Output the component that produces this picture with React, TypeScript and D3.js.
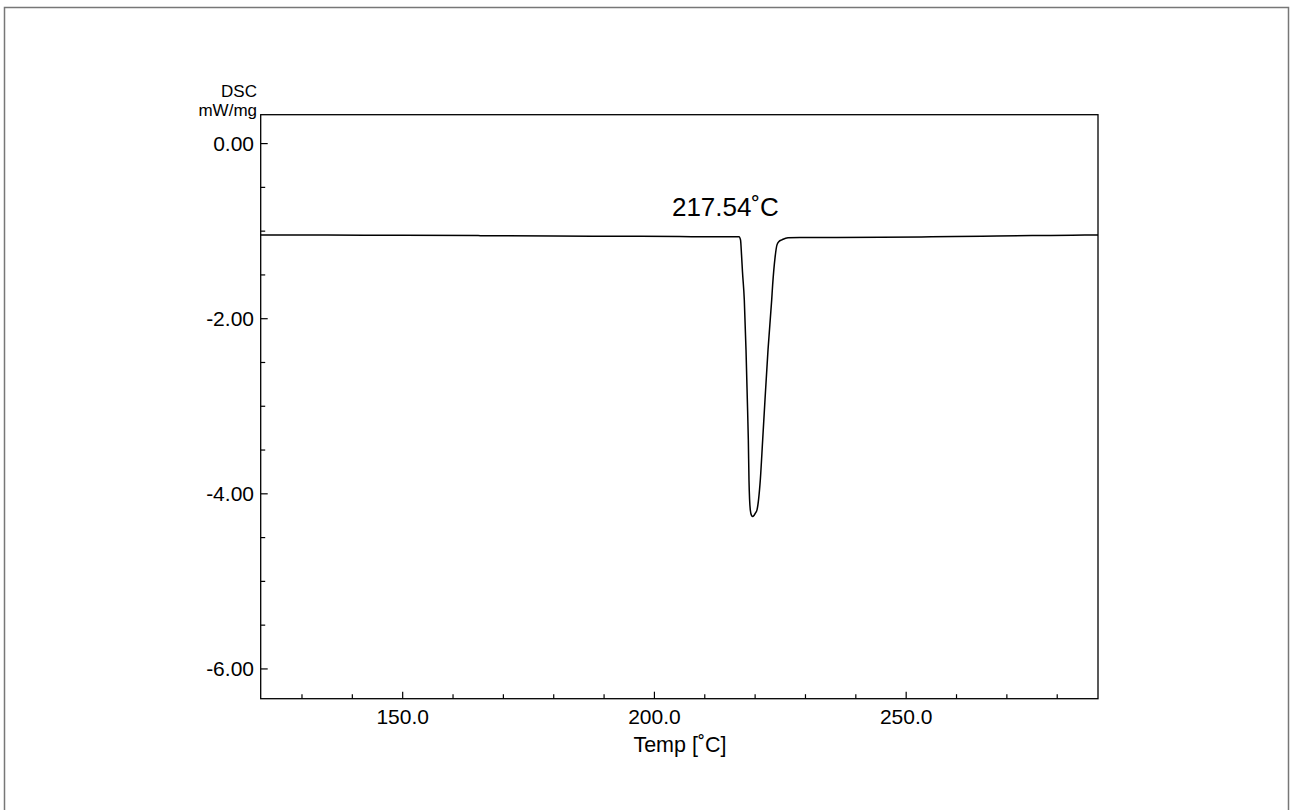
import React from "react";
import * as d3 from "d3";

// DSC curve: temperature (°C) and heat flow (mW/mg)
const temps = [
  121.8, 135, 150, 165, 180, 195, 205, 212, 216.0, 216.8,
  217.1, 217.3, 217.49, 217.85, 218.19, 218.45, 218.65, 218.78, 219.04, 219.28,
  219.52, 219.78, 220.08, 220.37, 221.03, 221.5, 221.96, 222.56, 223.29, 223.48,
  223.95, 224.34, 224.74, 225.28, 226.53, 228.9, 235, 245, 255, 265,
  275, 283, 288.1,
];
const dsc = [
  -1.043, -1.045, -1.047, -1.051, -1.055, -1.059, -1.062, -1.064, -1.064, -1.063,
  -1.1, -1.271, -1.465, -1.785, -2.356, -2.927, -3.384, -3.841, -4.184, -4.247,
  -4.26, -4.247, -4.218, -4.184, -3.841, -3.384, -2.927, -2.356, -1.785, -1.614,
  -1.305, -1.157, -1.117, -1.1, -1.074, -1.072, -1.073, -1.071, -1.065, -1.058,
  -1.051, -1.046, -1.043,
];

const yTicks = [0, -2, -4, -6];
const yMinor = [-0.5, -1, -1.5, -2.5, -3, -3.5, -4.5, -5, -5.5];
const xTicks = [150, 200, 250];
const xMinor = [130, 140, 160, 170, 180, 190, 210, 220, 230, 240, 260, 270, 280];
const peakLabel = "217.54˚C";
const peakLabelTemp = 214.3;
const yTitle = ["DSC", "mW/mg"];
const xTitle = "Temp [˚C]";

const FONT = "'Liberation Sans', Arial, Helvetica, sans-serif";

export default function App() {
  const x = d3.scaleLinear().domain([121.8, 288.1]).range([260.7, 1098]);
  const y = d3.scaleLinear().domain([-6.34, 0.33]).range([698.7, 114.7]);
  const pts = temps.map((t, i) => [t, dsc[i]] as [number, number]);
  const line = d3
    .line<[number, number]>()
    .x((d) => x(d[0]))
    .y((d) => y(d[1]))
    .curve(d3.curveMonotoneX);

  const [x0, x1] = x.range();
  const [yb, yt] = y.range();

  return (
    <svg
      width={1290}
      height={810}
      style={{ position: "absolute", left: 0, top: 0, display: "block", background: "#fff" }}
    >
      <rect x={4.5} y={7.5} width={1284} height={900} fill="#fff" stroke="#777" strokeWidth={1.5} />
      {/* plot frame */}
      <rect x={x0} y={yt} width={x1 - x0} height={yb - yt} fill="none" stroke="#000" strokeWidth={1.3} />
      {/* y ticks */}
      {yTicks.map((v) => (
        <g key={"yt" + v}>
          <line x1={x0} x2={x0 + 7} y1={y(v)} y2={y(v)} stroke="#000" strokeWidth={1.2} />
          <text x={254} y={y(v) + 7.5} textAnchor="end" fontFamily={FONT} fontSize={21} fill="#000">
            {v.toFixed(2)}
          </text>
        </g>
      ))}
      {yMinor.map((v) => (
        <line key={"ym" + v} x1={x0} x2={x0 + 4.5} y1={y(v)} y2={y(v)} stroke="#000" strokeWidth={1.2} />
      ))}
      {/* x ticks */}
      {xTicks.map((v) => (
        <g key={"xt" + v}>
          <line x1={x(v)} x2={x(v)} y1={yb} y2={yb - 7} stroke="#000" strokeWidth={1.2} />
          <text x={x(v)} y={724} textAnchor="middle" fontFamily={FONT} fontSize={21} fill="#000">
            {v.toFixed(1)}
          </text>
        </g>
      ))}
      {xMinor.map((v) => (
        <line key={"xm" + v} x1={x(v)} x2={x(v)} y1={yb} y2={yb - 4.5} stroke="#000" strokeWidth={1.2} />
      ))}
      {/* titles */}
      <text x={257} y={96.5} textAnchor="end" fontFamily={FONT} fontSize={17} fill="#000">
        {yTitle[0]}
      </text>
      <text x={257} y={116} textAnchor="end" fontFamily={FONT} fontSize={17} fill="#000">
        {yTitle[1]}
      </text>
      <text x={680} y={752} textAnchor="middle" fontFamily={FONT} fontSize={21.5} fill="#000">
        {xTitle}
      </text>
      {/* curve */}
      <path d={line(pts) || ""} fill="none" stroke="#000" strokeWidth={1.5} strokeLinejoin="round" />
      <text x={x(peakLabelTemp) - 1} y={216} textAnchor="middle" fontFamily={FONT} fontSize={26} fill="#000">
        {peakLabel}
      </text>
    </svg>
  );
}
